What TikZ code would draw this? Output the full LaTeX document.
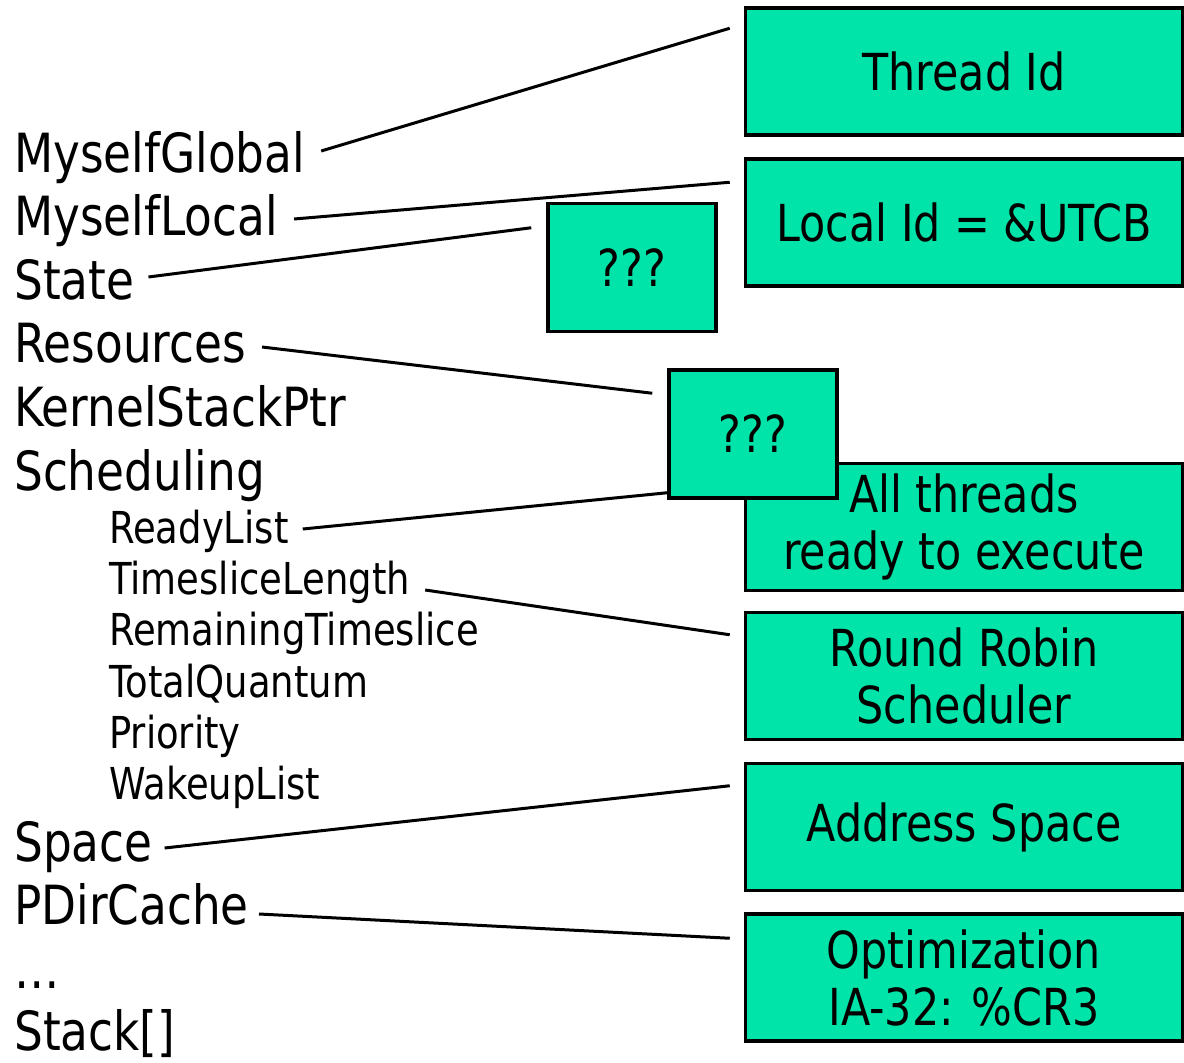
\documentclass[tikz,border=0pt]{standalone}
\usepackage{fontspec}
\setmainfont{DejaVu Sans}[FakeStretch=0.84]
\definecolor{utcbgreen}{RGB}{0,228,170}
\tikzset{
  field/.style={anchor=base west, inner sep=0pt, font=\fontsize{54}{58}\selectfont},
  subfield/.style={anchor=base west, inner sep=0pt, font=\fontsize{44}{50}\selectfont},
  infobox/.style={draw, line width=3.5pt, fill=utcbgreen, minimum width=437pt,
    minimum height=127pt, align=center, font=\fontsize{51}{57}\selectfont},
  qbox/.style={infobox, minimum width=168pt, minimum height=128pt},
  link/.style={line width=3pt}
}
\begin{document}
\begin{tikzpicture}[x=1pt, y=-1pt]
    \useasboundingbox (0,0) rectangle (1184,1063);
    % fields of the thread control block
    \node[field] (glob)  at (14,172)  {MyselfGlobal};
    \node[field] (loc)   at (14,235)  {MyselfLocal};
    \node[field] (state) at (14,299)  {State};
    \node[field] (res)   at (14,362)  {Resources};
    \node[field] (ksp)   at (14,426)  {KernelStackPtr};
    \node[field] (sched) at (14,490)  {Scheduling};
    \node[subfield] (ready) at (109,543) {ReadyList};
    \node[subfield] (tsl)   at (109,594) {TimesliceLength};
    \node[subfield] (rts)   at (109,645) {RemainingTimeslice};
    \node[subfield] (tq)    at (109,697) {TotalQuantum};
    \node[subfield] (prio)  at (109,748) {Priority};
    \node[subfield] (wake)  at (109,799) {WakeupList};
    \node[field] (space) at (14,861)  {Space};
    \node[field] (pdir)  at (14,924)  {PDirCache};
    \node[field] (dots)  at (14,988)  {…};
    \node[field] (stack) at (14,1050) {Stack[]};

    % what the fields hold
    \node[infobox] (tid)    at (964,71.5)  {Thread Id};
    \node[infobox] (lid)    at (964,222.5) {Local Id = \&UTCB};
    \node[qbox]    (qa)     at (632,267.5) {???};
    \node[infobox] (allrdy) at (964,527)   {All threads\\ready to execute};
    \node[qbox]    (qb)     at (753,434)   {???};
    \node[infobox] (rr)     at (964,676)   {Round Robin\\Scheduler};
    \node[infobox] (as)     at (964,827)   {Address Space};
    \node[infobox] (opt)    at (964,977.5) {Optimization\\IA-32: \%CR3};

    \draw[link] ([shift={(16,-21)}]glob.base east)  -- ([shift={(-14,22)}]tid.north west);
    \draw[link] ([shift={(16,-16)}]loc.base east)   -- ([shift={(-14,25)}]lid.north west);
    \draw[link] ([shift={(14,-22)}]state.base east) -- ([shift={(-15,26)}]qa.north west);
    \draw[link] ([shift={(16,-15)}]res.base east)   -- ([shift={(-15,25)}]qb.north west);
    \draw[link] ([shift={(14,-14)}]ready.base east) -- ([shift={(0,-7)}]qb.south west);
    \draw[link] ([shift={(15,-4)}]tsl.base east)    -- ([shift={(-14,24)}]rr.north west);
    \draw[link] ([shift={(12,-13)}]space.base east) -- ([shift={(-14,24)}]as.north west);
    \draw[link] ([shift={(10,-10)}]pdir.base east)  -- ([shift={(-14,26)}]opt.north west);
\end{tikzpicture}
\end{document}
